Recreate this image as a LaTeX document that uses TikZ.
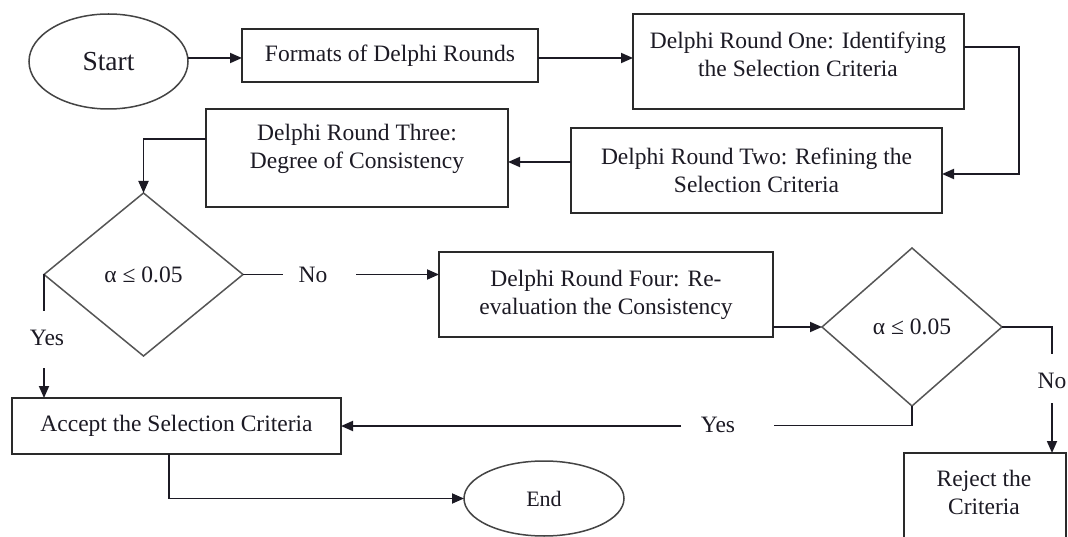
\documentclass[tikz,border=0pt]{standalone}
\usepackage{fontspec}
\setmainfont{Liberation Serif}
\usetikzlibrary{shapes.geometric,arrows.meta,calc}

\definecolor{ink}{HTML}{1C1A24}
\definecolor{edge}{HTML}{2A2A2A}
\definecolor{diaedge}{HTML}{555555}
\definecolor{ovaledge}{HTML}{444444}

\begin{document}
\begin{tikzpicture}[x=1pt,y=-1pt,
  every node/.style={inner sep=0pt,outer sep=0pt},
  txt/.style={font=\fontsize{23.5}{28}\selectfont,align=center,text=ink},
  stepbox/.style={rectangle,draw=edge,line width=2pt,txt},
  decision/.style={diamond,draw=diaedge,line width=1.5pt,txt},
  term/.style={ellipse,draw=ovaledge,line width=1.5pt,txt},
  link/.style={draw=ink,line width=1.8pt},
  arr/.style={link,-{Triangle[length=12pt,width=10pt]}},
]
\path[use as bounding box,clip] (0,0) rectangle (1068,537);
\fill[white] (0,0) rectangle (1068,537);

% ---- nodes ----
\node[term,minimum width=159pt,minimum height=95pt,font=\fontsize{27.5}{30}\selectfont]
  (start) at (108.5,61.5) {Start};
\node[stepbox,minimum width=296pt,minimum height=53pt] (fmt) at (390,55.5)
  {Formats of Delphi Rounds};

\node[stepbox,minimum width=331pt,minimum height=95pt] (r1) at (798.5,61.5) {};
\node[txt] (r1t) at (798,54) {Delphi Round One: Identifying\\the Selection Criteria};

\node[stepbox,minimum width=371pt,minimum height=85pt] (r2) at (756.5,170.5)
  {Delphi Round Two: Refining the\\Selection Criteria};

\node[stepbox,minimum width=302pt,minimum height=98pt] (r3) at (357,158) {};
\node[txt] (r3t) at (357,149) {Delphi Round Three:\\Degree of Consistency};

\node[decision,minimum width=199pt,minimum height=163pt] (d1) at (143.5,274.5)
  {α ≤ 0.05};

\node[stepbox,minimum width=334pt,minimum height=85pt] (r4) at (606,294.5)
  {Delphi Round Four: Re-\\evaluation the Consistency};

\node[decision,minimum width=180pt,minimum height=158pt] (d2) at (912,327)
  {α ≤ 0.05};

\node[stepbox,minimum width=329pt,minimum height=56pt] (accept) at (176.5,426)
  {Accept the Selection Criteria};

\node[term,minimum width=160pt,minimum height=75pt,font=\fontsize{22}{26}\selectfont]
  (end) at (544,498.5) {End};

\node[stepbox,minimum width=162pt,minimum height=107pt] (reject) at (985,506.5) {};
\node[txt] (rejt) at (984,492.5) {Reject the\\Criteria};

% ---- branch labels ----
\node[txt] (no1) at (313,275) {No};
\node[txt] (yes1) at (47,338) {Yes};
\node[txt] (yes2) at (718,425) {Yes};
\node[txt] (no2) at (1052,381) {No};

\coordinate (no1l) at (283,274.5);
\coordinate (no1r) at (356,274.5);
\coordinate (yes1t) at (44,311);
\coordinate (yes1b) at (44,368);
\coordinate (yes2r) at (774,425.5);
\coordinate (yes2l) at (681,426);
\coordinate (no2t) at (1052,354);
\coordinate (no2b) at (1052,403);

% ---- connectors ----
\draw[arr] ($(start.east)+(0,-3.5)$) -- ($(fmt.west)+(0,2.5)$);
\draw[arr] ($(fmt.east)+(0,2.5)$) -- ($(r1.west)+(0,-3.5)$);
\draw[arr] ($(r1.east)+(0,-14.5)$) -- ++(55,0) |- ($(r2.east)+(0,3.5)$);
\draw[arr] ($(r2.west)+(0,-8.5)$) -- ($(r3.east)+(0,4)$);
\draw[arr] ($(r3.west)+(0,-19)$) -| (d1.north);

\draw[link] (d1.east) -- (no1l);
\draw[arr] (no1r) -- (r4.west |- no1r);

\draw[link] (d1.west) -- (yes1t);
\draw[arr] (yes1b) -- (yes1b |- accept.north);

\draw[arr] (r4.east |- d2.west) -- (d2.west);

\draw[link] (d2.south) |- (yes2r);
\draw[arr] (yes2l) -- (accept.east |- yes2l);

\draw[link] (d2.east) -| (no2t);
\draw[arr] (no2b) -- (no2b |- reject.north);

\draw[arr] ($(accept.south)+(-7.5,0)$) |- (end.west);
\end{tikzpicture}
\end{document}
